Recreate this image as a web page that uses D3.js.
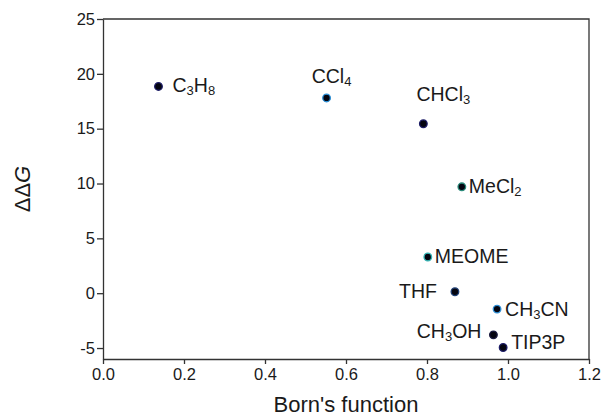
<!DOCTYPE html>
<html>
<head>
<meta charset="utf-8">
<script src="https://cdn.jsdelivr.net/npm/d3@7"></script>
<style>
  html, body { margin: 0; padding: 0; background: #fff; }
  svg { display: block; font-family: Arial, "Liberation Sans", Helvetica, sans-serif; }
</style>
</head>
<body>
<div id="chart"></div>
<script>
// ΔΔG vs Born's function, one point per solvent

//### DATA ###
const solvents = [ 'C3H8', 'CCl4', 'CHCl3', 'MeCl2', 'MEOME', 'THF', 'CH3CN', 'CH3OH', 'TIP3P' ];
const bornValues = [ 0.137, 0.552, 0.791, 0.886, 0.802, 0.869, 0.973, 0.964, 0.988 ];
const ddgValues = [ 18.85, 17.8, 15.45, 9.7, 3.3, 0.13, -1.45, -3.8, -4.95 ];
const xTicks = [ 0, 0.2, 0.4, 0.6, 0.8, 1.0, 1.2 ];
const yTicks = [ -5, 0, 5, 10, 15, 20, 25 ];

//### LAYOUT ###
const W = 601, H = 418;
const margin = { top: 19, right: 12, bottom: 59, left: 103 };
const width = W - margin.left - margin.right;
const height = H - margin.top - margin.bottom;
const axisColor = '#333';
const textColor = '#1a1a1a';

//>>> label placement per point: anchor, dx, dy (relative to the dot)
const labelPlace = {
  C3H8:  [ 'start', 14, 6 ],
  CCl4:  [ 'middle', 5, -15 ],
  CHCl3: [ 'middle', 20, -23 ],
  MeCl2: [ 'start', 7, 6 ],
  MEOME: [ 'start', 7, 6 ],
  THF:   [ 'end', -18, 6 ],
  CH3CN: [ 'start', 8, 7 ],
  CH3OH: [ 'end', -12, 3 ],
  TIP3P: [ 'start', 8, 2 ]
};
//>>> dot outline colours
const strokeColors = {
  C3H8: '#1c1c66', CCl4: '#2b8fd6', CHCl3: '#1c1c66', MeCl2: '#2a8a7a', MEOME: '#33b3b3',
  THF: '#1e3f74', CH3CN: '#2f8fd6', CH3OH: '#1a1a40', TIP3P: '#1c1c66'
};

const data = solvents.map( ( s, i ) => ( { name: s, x: bornValues[ i ], y: ddgValues[ i ] } ) );

const svg = d3.select( '#chart' ).append( 'svg' )
  .attr( 'width', W )
  .attr( 'height', H );

const g = svg.append( 'g' )
  .attr( 'transform', `translate(${margin.left},${margin.top})` );

//_____ SCALES _____
const x = d3.scaleLinear().domain( [ 0, 1.2 ] ).range( [ 0, width ] );
const y = d3.scaleLinear().domain( [ -6, 25 ] ).range( [ height, 0 ] );

//_____ AXES _____
const xAxis = g.append( 'g' )
  .attr( 'transform', `translate(0,${height})` )
  .call( d3.axisBottom( x ).tickValues( xTicks ).tickFormat( d3.format( '.1f' ) ).tickSize( 5 ).tickSizeOuter( 0 ).tickPadding( 4 ) );

const yAxis = g.append( 'g' )
  .call( d3.axisLeft( y ).tickValues( yTicks ).tickFormat( d => String( d ) ).tickSize( 6 ).tickSizeOuter( 0 ).tickPadding( 2 ) );

[ xAxis, yAxis ].forEach( a => {
  a.selectAll( 'path, line' ).attr( 'stroke', axisColor ).attr( 'stroke-width', 1.3 );
  a.selectAll( 'text' ).attr( 'fill', textColor ).style( 'font-size', '16.5px' ).style( 'font-family', 'Arial, "Liberation Sans", sans-serif' );
} );

//>>> top and right frame
g.append( 'path' )
  .attr( 'd', `M0,0H${width}V${height}` )
  .attr( 'fill', 'none' )
  .attr( 'stroke', axisColor )
  .attr( 'stroke-width', 1.3 );

//_____ DOTS _____
g.selectAll( 'circle.dot' )
  .data( data )
  .enter()
  .append( 'circle' )
  .attr( 'class', 'dot' )
  .attr( 'cx', d => x( d.x ) )
  .attr( 'cy', d => y( d.y ) )
  .attr( 'r', 3.8 )
  .attr( 'fill', '#050510' )
  .attr( 'stroke', d => strokeColors[ d.name ] )
  .attr( 'stroke-width', 1.3 );

//_____ POINT LABELS (with subscripts) _____
const labels = g.selectAll( 'text.lbl' )
  .data( data )
  .enter()
  .append( 'text' )
  .attr( 'class', 'lbl' )
  .attr( 'x', d => x( d.x ) + labelPlace[ d.name ][ 1 ] )
  .attr( 'y', d => y( d.y ) + labelPlace[ d.name ][ 2 ] )
  .attr( 'text-anchor', d => labelPlace[ d.name ][ 0 ] )
  .attr( 'fill', textColor )
  .style( 'font-size', '19.5px' );

labels.each( function ( d ) {
  const t = d3.select( this );
  const parts = d.name === 'TIP3P' ? [ d.name ] : d.name.split( /(\d)/ ).filter( p => p !== '' );
  let sub = false;
  parts.forEach( p => {
    const isDigit = /^\d$/.test( p );
    const ts = t.append( 'tspan' ).text( p );
    if ( isDigit ) {
      ts.style( 'font-size', '13px' ).attr( 'dy', 3 );
      sub = true;
    } else if ( sub ) {
      ts.attr( 'dy', -3 );
      sub = false;
    }
  } );
} );

//_____ AXIS TITLES _____
svg.append( 'text' )
  .attr( 'x', margin.left + width / 2 )
  .attr( 'y', H - 6 )
  .attr( 'text-anchor', 'middle' )
  .attr( 'fill', textColor )
  .style( 'font-size', '22px' )
  .text( "Born's function" );

const yt = svg.append( 'text' )
  .attr( 'transform', `translate(30,${margin.top + height / 2}) rotate(-90)` )
  .attr( 'text-anchor', 'middle' )
  .attr( 'fill', textColor )
  .style( 'font-size', '22px' );
yt.append( 'tspan' ).text( 'ΔΔ' );
yt.append( 'tspan' ).style( 'font-style', 'italic' ).text( 'G' );
</script>
</body>
</html>
